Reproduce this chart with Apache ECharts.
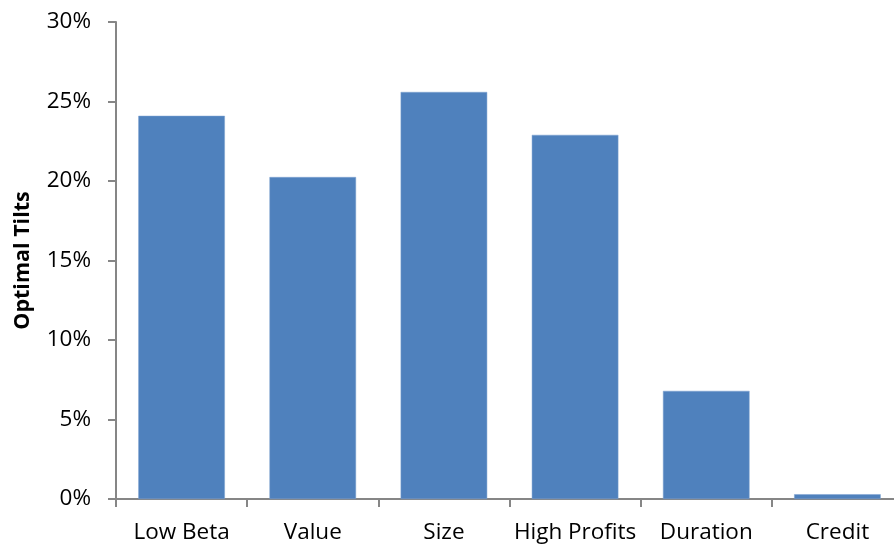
<!DOCTYPE html>
<html>
<head>
<meta charset="utf-8">
<script src="https://cdn.jsdelivr.net/npm/echarts@6/dist/echarts.min.js"></script>
<style>html,body{margin:0;padding:0;background:#fff}#c{width:894px;height:551px}</style>
</head>
<body>
<div id="c"></div>
<script>
const categories = ["Low Beta", "Value", "Size", "High Profits", "Duration", "Credit"];
const tilts = [24.1, 20.25, 25.6, 22.9, 6.8, 0.3];
const yTicks = [0, 5, 10, 15, 20, 25, 30];

const chart = echarts.init(document.getElementById('c'), null, {renderer: 'canvas'});
const font = '"Open Sans", "Liberation Sans", sans-serif';
chart.setOption({
  animation: false,
  grid: {left: 116, top: 22, width: 787, height: 477, containLabel: false, outerBoundsMode: 'none'},
  xAxis: {
    type: 'category',
    data: categories,
    axisLine: {lineStyle: {color: '#868686', width: 2}},
    axisTick: {show: true, length: 8, lineStyle: {color: '#868686', width: 2}, alignWithLabel: false},
    axisLabel: {color: '#000', fontSize: 22.5, fontFamily: font, margin: 22, interval: 0}
  },
  yAxis: {
    type: 'value',
    min: yTicks[0], max: yTicks[yTicks.length - 1], interval: 5,
    name: 'Optimal Tilts',
    nameLocation: 'middle',
    nameGap: 82,
    nameRotate: 90,
    nameTextStyle: {color: '#000', fontSize: 21.5, fontWeight: 'bold', fontFamily: font},
    axisLine: {show: true, lineStyle: {color: '#868686', width: 2}},
    axisTick: {show: true, length: 8, lineStyle: {color: '#868686', width: 2}},
    splitLine: {show: false},
    axisLabel: {color: '#000', fontSize: 22.5, fontFamily: font, margin: 25, formatter: v => v + '%'}
  },
  series: [{
    type: 'bar',
    data: tilts,
    barWidth: '66%',
    itemStyle: {color: '#4F81BD', borderColor: '#7FA3D0', borderWidth: 0.5}
  }]
});
</script>
</body>
</html>
